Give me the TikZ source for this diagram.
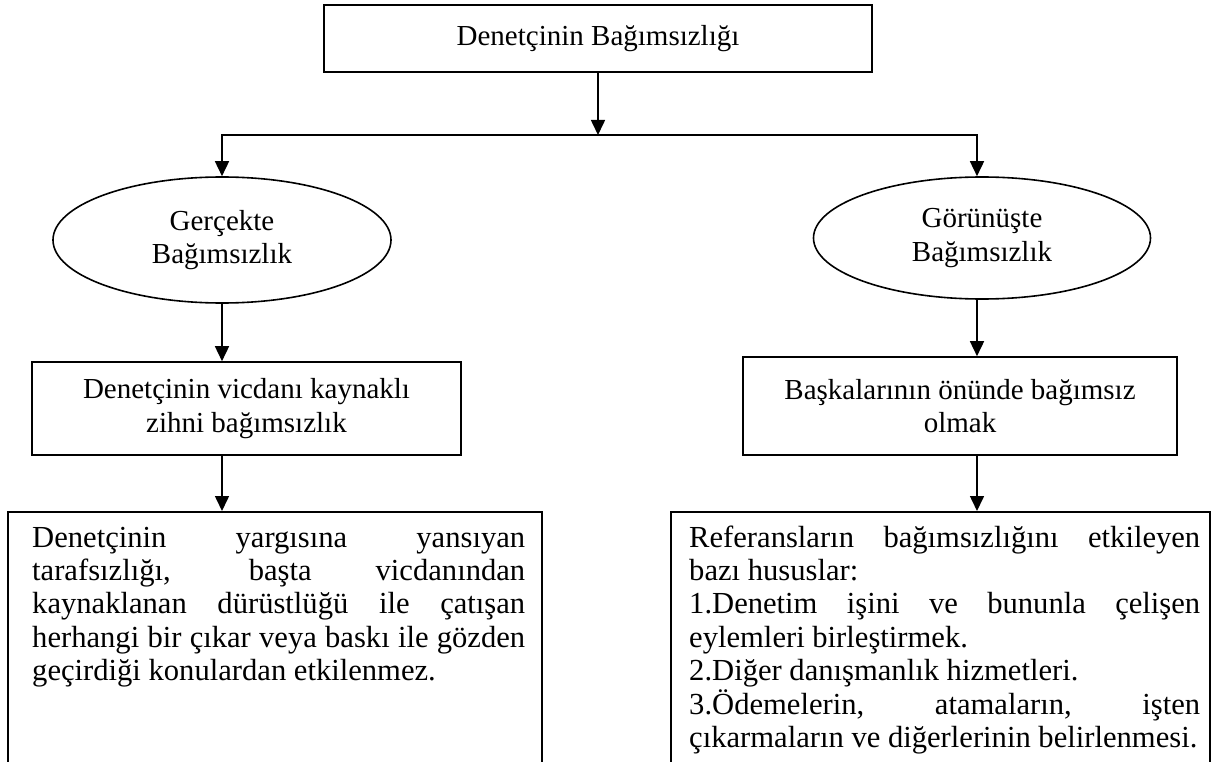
\documentclass[tikz,border=0pt]{standalone}
\usepackage{fontspec}
\setmainfont{Liberation Serif}
\usetikzlibrary{shapes.geometric,arrows.meta,calc}
\begin{document}
\begin{tikzpicture}[x=1pt,y=-1pt,
  every node/.style={font=\fontsize{29}{33.4}\selectfont},
  box/.style={draw, line width=1.6pt, inner sep=0pt, align=center},
  ell/.style={draw, ellipse, line width=1.6pt, inner sep=0pt, align=center},
  arr/.style={line width=1.6pt, -{Triangle[width=14pt,length=15pt]}},
  body/.style={inner sep=0pt, anchor=north west, align=justify, font=\fontsize{30.6}{33.4}\selectfont}
]
\useasboundingbox (0,0) rectangle (1218,762);
\clip (0,0) rectangle (1218,762);

\node[box, minimum width=548pt, minimum height=67pt] (top) at (598,38.5) {Denetçinin Bağımsızlığı};
\node[ell, minimum width=338pt, minimum height=126pt] (e1) at (222,240) {Gerçekte\\Bağımsızlık};
\node[ell, minimum width=337pt, minimum height=122pt] (e2) at (982,238) {Görünüşte\\Bağımsızlık};
\node[box, minimum width=429pt, minimum height=93pt] (m1) at (246.5,408.5) {Denetçinin vicdanı kaynaklı\\zihni bağımsızlık};
\node[box, minimum width=434pt, minimum height=98pt] (m2) at (960,406) {Başkalarının önünde bağımsız\\olmak};

\node[box, anchor=north west, minimum width=534pt, minimum height=270pt] (b1) at (7,511) {};
\node[box, anchor=north west, minimum width=539pt, minimum height=270pt] (b2) at (670,511) {};

\node[body, text width=493pt] (t1) at (32,523.6) {\tolerance=10000\hyphenpenalty=10000\exhyphenpenalty=10000\strut Denetçinin yargısına yansıyan\linebreak tarafsızlığı, başta vicdanından\linebreak kaynaklanan dürüstlüğü ile çatışan\linebreak herhangi bir çıkar veya baskı ile gözden\linebreak geçirdiği konulardan etkilenmez.};
\node[body, text width=511pt] (t2) at (689,523.6) {\tolerance=10000\hyphenpenalty=10000\exhyphenpenalty=10000\strut Referansların bağımsızlığını etkileyen\linebreak bazı hususlar:\\1.Denetim işini ve bununla çelişen\linebreak eylemleri birleştirmek.\\2.Diğer danışmanlık hizmetleri.\\3.Ödemelerin, atamaların, işten\linebreak çıkarmaların ve diğerlerinin belirlenmesi.};

\coordinate (xr) at (977,0);
\coordinate (j) at (598,135);
\draw[arr] (top.south) -- (j);
\draw[arr] (j) -| (e1.north);
\draw[arr] (j) -| (e2.north -| xr);
\draw[arr] (e1.south) -- (e1.south |- m1.north);
\draw[arr] (e2.south -| xr) -- (m2.north -| xr);
\draw[arr] (m1.south -| e1.south) -- (b1.north -| e1.south);
\draw[arr] (m2.south -| xr) -- (b2.north -| xr);
\end{tikzpicture}
\end{document}
